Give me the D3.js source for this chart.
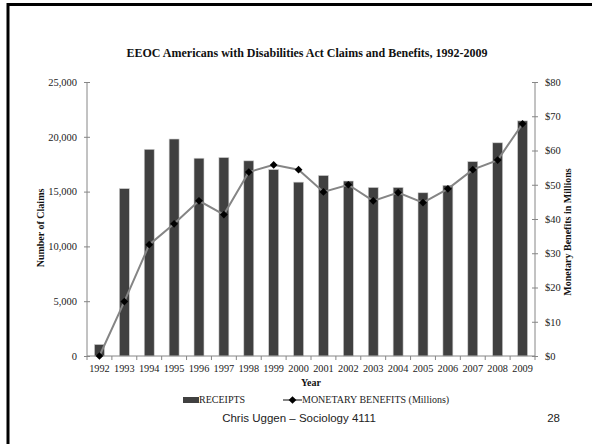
<!DOCTYPE html>
<html><head><meta charset="utf-8">
<script src="https://cdn.jsdelivr.net/npm/d3@7"></script>
<style>
html,body{margin:0;padding:0;background:#fff;}
svg{display:block;}
</style></head>
<body>
<svg id="c" width="592" height="444"></svg>
<script>
const years = ["1992","1993","1994","1995","1996","1997","1998","1999","2000","2001","2002","2003","2004","2005","2006","2007","2008","2009"];
const receipts = [1048,15274,18859,19798,18046,18108,17806,17007,15864,16470,15964,15377,15376,14893,15575,17734,19453,21451];
const benefits = [0,15.9,32.5,38.6,45.3,41.3,53.7,55.8,54.4,47.9,50.0,45.3,47.7,44.8,48.8,54.4,57.2,67.8];
const leftTicks = [0,5000,10000,15000,20000,25000];
const rightTicks = [0,10,20,30,40,50,60,70,80];

const svg = d3.select("#c");
const serif = "'Liberation Serif', 'DejaVu Serif', serif";
const sans = "'Liberation Sans', Arial, sans-serif";

// slide frame
svg.append("path").attr("d", d3.line()([[8,444],[8,4.5],[592,4.5]]))
  .attr("fill","none").attr("stroke","#000").attr("stroke-width",3);

const L = 87, R = 535, T = 82, B = 356;
const x = d3.scaleBand().domain(years).range([L,R]).paddingInner(0.6).paddingOuter(0.3);
const yL = d3.scaleLinear().domain([0,25000]).range([B,T]);
const yR = d3.scaleLinear().domain([0,80]).range([B,T]);
const axisCol = "#868686";

// bars
svg.append("g").selectAll("rect").data(years).join("rect")
  .attr("x", d => x(d)).attr("width", x.bandwidth())
  .attr("y", (d,i) => yL(receipts[i])).attr("height", (d,i) => B - yL(receipts[i]))
  .attr("fill","#404040").attr("stroke","#d0d0d0").attr("stroke-width",0.6);

// left axis
const gL = svg.append("g").attr("transform",`translate(${L},0)`)
  .call(d3.axisLeft(yL).tickValues(leftTicks).tickFormat(d3.format(",")).tickSize(3).tickPadding(7));
gL.selectAll("line").clone().attr("x2",3);
// right axis
const gR = svg.append("g").attr("transform",`translate(${R},0)`)
  .call(d3.axisRight(yR).tickValues(rightTicks).tickFormat(d => "$" + d).tickSize(3).tickPadding(7));
gR.selectAll("line").clone().attr("x2",-3);
[gL,gR].forEach(g => {
  g.select(".domain").attr("stroke",axisCol).attr("d", `M0,${T}V${B}`);
  g.selectAll(".tick line").attr("stroke",axisCol);
  g.selectAll("text").attr("font-family",serif).attr("font-size",10.5).attr("fill","#222");
});

// x axis
svg.append("line").attr("x1",L).attr("x2",R).attr("y1",B).attr("y2",B).attr("stroke",axisCol);
const gap = (x.step() - x.bandwidth())/2;
const bounds = years.map(d => x(d) - gap).concat([x(years[years.length-1]) + x.bandwidth() + gap]);
svg.append("g").selectAll("line").data(bounds).join("line")
  .attr("x1",d=>d).attr("x2",d=>d).attr("y1",B).attr("y2",B+4).attr("stroke",axisCol);
svg.append("g").selectAll("text").data(years).join("text")
  .attr("x", d => x(d) + x.bandwidth()/2).attr("y", 372)
  .attr("text-anchor","middle").attr("font-family",serif).attr("font-size",10.3).attr("fill","#222")
  .text(d => d);

// line + markers
const pts = years.map((d,i) => [x(d) + x.bandwidth()/2, yR(benefits[i])]);
svg.append("path").attr("d", d3.line()(pts)).attr("fill","none").attr("stroke","#858585").attr("stroke-width",2);
const diamond = d3.symbol().type(d3.symbolDiamond2).size(38);
svg.append("g").selectAll("path").data(pts).join("path")
  .attr("transform", d => `translate(${d[0]},${d[1]})`).attr("d", diamond).attr("fill","#000");

// titles
svg.append("text").attr("x",307).attr("y",57).attr("text-anchor","middle")
  .attr("font-family",serif).attr("font-weight","bold").attr("font-size",12).attr("fill","#111")
  .text("EEOC Americans with Disabilities Act Claims and Benefits, 1992-2009");
svg.append("text").attr("transform","translate(43.5,228) rotate(-90)").attr("text-anchor","middle")
  .attr("font-family",serif).attr("font-weight","bold").attr("font-size",10).attr("fill","#111")
  .text("Number of Claims");
svg.append("text").attr("transform","translate(571,232) rotate(-90)").attr("text-anchor","middle")
  .attr("font-family",serif).attr("font-weight","bold").attr("font-size",10).attr("fill","#111")
  .text("Monetary Benefits in Millions");
svg.append("text").attr("x",311).attr("y",386).attr("text-anchor","middle")
  .attr("font-family",serif).attr("font-weight","bold").attr("font-size",10).attr("fill","#111")
  .text("Year");

// legend
svg.append("rect").attr("x",183).attr("y",397).attr("width",16).attr("height",6).attr("fill","#404040");
svg.append("text").attr("x",199).attr("y",403).attr("font-family",serif).attr("font-size",10).attr("fill","#222").text("RECEIPTS");
svg.append("line").attr("x1",283).attr("x2",302).attr("y1",400).attr("y2",400).attr("stroke","#858585").attr("stroke-width",2);
svg.append("path").attr("transform","translate(292.5,400)").attr("d", diamond).attr("fill","#000");
svg.append("text").attr("x",302).attr("y",403).attr("font-family",serif).attr("font-size",10).attr("fill","#222").text("MONETARY BENEFITS (Millions)");

// footer
svg.append("text").attr("x",299).attr("y",422).attr("text-anchor","middle")
  .attr("font-family",sans).attr("font-size",11.5).attr("fill","#222").text("Chris Uggen \u2013 Sociology 4111");
svg.append("text").attr("x",560).attr("y",422).attr("text-anchor","end")
  .attr("font-family",sans).attr("font-size",11.5).attr("fill","#222").text("28");
</script>
</body></html>
